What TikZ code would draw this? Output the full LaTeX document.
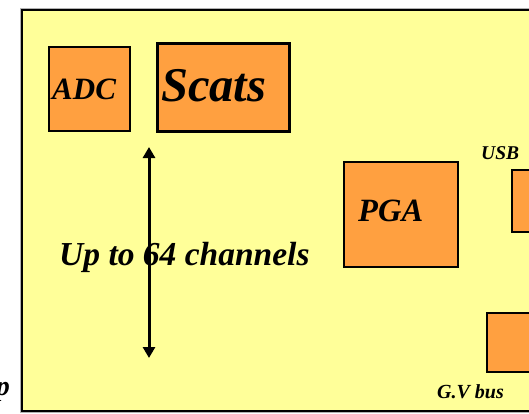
\documentclass[tikz,border=0pt]{standalone}
\usepackage{fontspec}
\setmainfont{Liberation Serif}
\usetikzlibrary{arrows.meta}
\definecolor{board}{HTML}{FFFF99}
\definecolor{chip}{HTML}{FFA040}
\tikzset{
  block/.style={draw=black, fill=chip, line width=2pt},
  lbl/.style={inner sep=0pt, font=\bfseries\itshape},
}
\begin{document}
\begin{tikzpicture}[x=1pt,y=-1pt]
  \useasboundingbox (0,0) rectangle (529,414);
  \clip (0,0) rectangle (529,414);
  % board outline with a faint edge shade
  \draw[line width=1pt, gray!60] (20.5,8.5) rectangle (546,412.5);
  \draw[line width=2pt, fill=board] (22,10) rectangle (545,411);
  % blocks on the board
  \draw[block] (49,47) rectangle (130,131) coordinate (adcbox);
  \draw[block, line width=3pt] (157,44) rectangle (289,132) coordinate (scatsbox);
  \draw[block] (344,162) rectangle (458,267) coordinate (pgabox);
  \draw[block] (512,170) rectangle (545,232) coordinate (usbbox);
  \draw[block] (487,313) rectangle (545,372) coordinate (busbox);
  % labels
  \node[lbl, anchor=base west, font=\fontsize{31}{31}\selectfont\bfseries\itshape] (adc) at (52,100) {ADC};
  \node[lbl, anchor=base west, font=\fontsize{48.5}{48.5}\selectfont\bfseries\itshape] (scats) at (161,102) {Scats};
  \node[lbl, anchor=base west, font=\fontsize{32.5}{32.5}\selectfont\bfseries\itshape] (pga) at (358,221) {PGA};
  \node[lbl, anchor=base west, font=\fontsize{19.5}{19.5}\selectfont\bfseries\itshape] (usb) at (481,160) {USB};
  \node[lbl, anchor=base west, font=\fontsize{20}{20}\selectfont\bfseries\itshape] (bus) at (437,398) {G.V bus};
  \node[lbl, anchor=base west, font=\fontsize{33.5}{33.5}\selectfont\bfseries\itshape] (chan) at (59,265) {Up to 64 channels};
  \node[lbl, anchor=base east, font=\fontsize{28}{28}\selectfont\bfseries\itshape] (tail) at (10,395) {p};
  % channel span arrow
  \coordinate (chtop) at (149,147);
  \coordinate (chbot) at (149,358);
  \draw[line width=3pt, {Triangle[length=11pt,width=12pt]}-{Triangle[length=11pt,width=12pt]}] (chtop) -- (chbot);
\end{tikzpicture}
\end{document}
